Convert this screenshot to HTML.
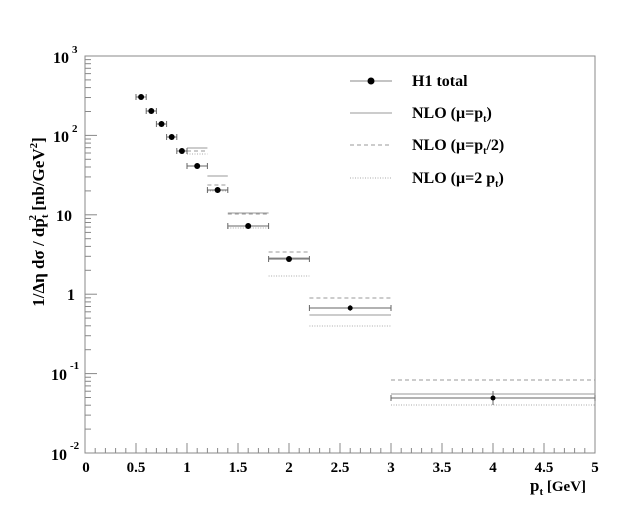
<!DOCTYPE html>
<html><head><meta charset="utf-8"><style>
body{margin:0;background:#fff}
text{font-family:"Liberation Serif",serif;font-weight:bold;fill:#000}
</style></head><body>
<svg id="s" width="624" height="510" xmlns="http://www.w3.org/2000/svg">
<rect x="85" y="56" width="510" height="397" fill="none" stroke="#888" stroke-width="1"/>
<g id="ticks" stroke="#888" stroke-width="1"></g>
<g font-size="16">
<text x="53" y="63">10</text><text x="72" y="53" font-size="11">3</text>
<text x="53" y="142">10</text><text x="72" y="132" font-size="11">2</text>
<text x="56" y="221">10</text>
<text x="67" y="300">1</text>
<text x="51" y="380">10</text><text x="70" y="369" font-size="11">-1</text>
<text x="51" y="460">10</text><text x="70" y="449" font-size="11">-2</text>
</g>
<g font-size="15" text-anchor="middle">
<text x="86" y="472">0</text><text x="136" y="472">0.5</text><text x="187" y="472">1</text>
<text x="238" y="472">1.5</text><text x="289" y="472">2</text><text x="340" y="472">2.5</text>
<text x="391" y="472">3</text><text x="442" y="472">3.5</text><text x="493" y="472">4</text>
<text x="544" y="472">4.5</text><text x="595" y="472">5</text>
</g>
<text x="530" y="491" font-size="17">p<tspan font-size="11" dy="4">t</tspan><tspan dy="-4" font-size="15">  [GeV]</tspan></text>
<text transform="translate(44,222) rotate(-90)" text-anchor="middle" font-size="17" font-weight="normal">1/Δη dσ / dp<tspan font-size="11" dy="4">t</tspan><tspan font-size="11" dy="-12" dx="-6">2</tspan><tspan dy="8">  [nb/GeV</tspan><tspan font-size="11" dy="-7">2</tspan><tspan dy="7">]</tspan></text>
<g id="data"></g>
<g font-size="16">
<line x1="350" y1="81" x2="392" y2="81" stroke="#888"/><circle cx="371" cy="81" r="3.5" fill="#000"/>
<text x="412" y="86">H1 total</text>
<line x1="350" y1="113" x2="392" y2="113" stroke="#999"/>
<text x="412" y="118">NLO (μ=p<tspan font-size="10" dy="4">t</tspan><tspan dy="-4">)</tspan></text>
<line x1="350" y1="145" x2="392" y2="145" stroke="#999" stroke-dasharray="4,3"/>
<text x="412" y="150">NLO (μ=p<tspan font-size="10" dy="4">t</tspan><tspan dy="-4">/2)</tspan></text>
<line x1="350" y1="178" x2="392" y2="178" stroke="#aaa" stroke-dasharray="1,1.5"/>
<text x="412" y="183">NLO (μ=2 p<tspan font-size="10" dy="4">t</tspan><tspan dy="-4">)</tspan></text>
</g>
</svg>
<script>
var NS="http://www.w3.org/2000/svg";
function X(v){return 85+v*102}
function el(p,t,a){var e=document.createElementNS(NS,t);for(var k in a)e.setAttribute(k,a[k]);p.appendChild(e);return e}
var T=document.getElementById("ticks");
for(var d=0;d<5;d++){var base=453-d*79.4;
 for(var m=1;m<10;m++){var y=base-Math.log10(m)*79.4;
  el(T,"line",{x1:85,y1:y,x2:85+(m==1?12:6),y2:y});}}
el(T,"line",{x1:85,y1:56,x2:97,y2:56});
for(var i=0;i<=50;i++){var x=X(i/10);el(T,"line",{x1:x,y1:453,x2:x,y2:453-(i%5==0?10:5)})}
var D=document.getElementById("data");
var pts=[[.5,.6,97],[.6,.7,111],[.7,.8,124],[.8,.9,137],[.9,1,151],[1,1.2,166],[1.2,1.4,190],[1.4,1.8,226],[1.8,2.2,259],[2.2,3,308],[3,5,398]];
var th=[[1,1.2,148,151,154],[1.2,1.4,176,185,191],[1.4,1.8,213,214,228],[1.8,2.2,258,252,276],[2.2,3,315,298,326],[3,5,394,380,405]];
th.forEach(function(t){var a=X(t[0]),b=X(t[1]);
 el(D,"line",{x1:a,y1:t[2],x2:b,y2:t[2],stroke:"#999"});
 el(D,"line",{x1:a,y1:t[3],x2:b,y2:t[3],stroke:"#999","stroke-dasharray":"4,3"});
 el(D,"line",{x1:a,y1:t[4],x2:b,y2:t[4],stroke:"#aaa","stroke-dasharray":"1,1.5"});});
pts.forEach(function(p){var a=X(p[0]),b=X(p[1]),c=(a+b)/2,y=p[2];
 el(D,"line",{x1:a,y1:y,x2:b,y2:y,stroke:"#666"});
 el(D,"line",{x1:a,y1:y-3,x2:a,y2:y+3,stroke:"#666"});
 el(D,"line",{x1:b,y1:y-3,x2:b,y2:y+3,stroke:"#666"});
 var e=(p[0]==3)?7:3;
 el(D,"line",{x1:c,y1:y-e,x2:c,y2:y+e,stroke:"#666"});
 el(D,"circle",{cx:c,cy:y,r:(p[0]>=2.2?2.5:3),fill:"#000"});});
</script>
</body></html>
